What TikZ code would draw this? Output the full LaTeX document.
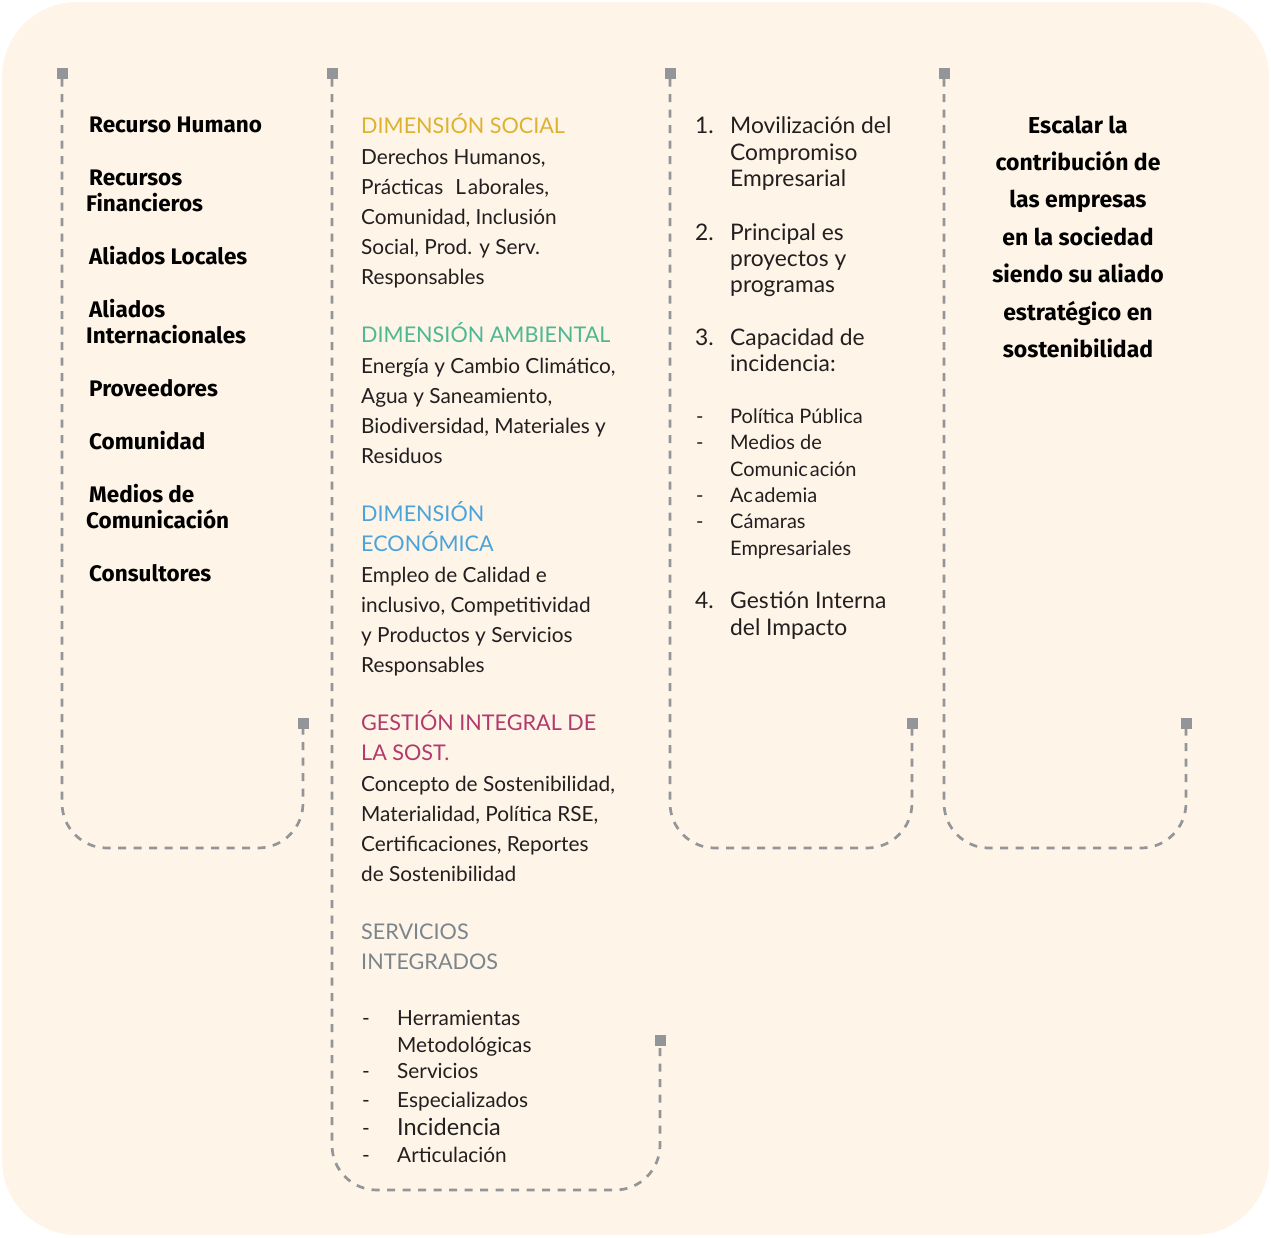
\documentclass[tikz,border=0pt]{standalone}
\usepackage{fontspec}
\setmainfont{Lato}
\newfontfamily\headf{Fira Sans}
\definecolor{bgc}{HTML}{FEF4E7}
\definecolor{sqc}{HTML}{939598}
\definecolor{txt}{HTML}{231F20}
\definecolor{csoc}{HTML}{DDB22F}
\definecolor{camb}{HTML}{4DB893}
\definecolor{ceco}{HTML}{4AA3DB}
\definecolor{cges}{HTML}{B23A6C}
\definecolor{cser}{HTML}{7B858C}
\begin{document}
\begin{tikzpicture}[x=1pt,y=-1pt,
  sq/.style={fill=sqc,minimum size=11pt,inner sep=0pt,draw=none},
  bracket/.style={draw=sqc,line width=2.7pt,dash pattern=on 8pt off 7.5pt,rounded corners=45pt},
  lb/.style={anchor=base west,inner sep=0pt,text=black,font=\headf\bfseries\fontsize{22.5}{26}\selectfont},
  rc/.style={anchor=base,inner sep=0pt,text=black,font=\headf\bfseries\fontsize{23}{27}\selectfont},
  body/.style={anchor=base west,inner sep=0pt,text=txt,font=\fontsize{20.8}{25}\selectfont},
  hd/.style={anchor=base west,inner sep=0pt,font=\fontsize{21.6}{26}\selectfont},
  num/.style={anchor=base west,inner sep=0pt,text=txt,font=\fontsize{22.8}{26}\selectfont},
  sm/.style={anchor=base west,inner sep=0pt,text=txt,font=\fontsize{20}{23}\selectfont}]
\useasboundingbox (0,0) rectangle (1271,1237);
\path[fill=bgc,rounded corners=75pt] (2,2) rectangle (1269,1235);

% squares
\node[sq] (q1t) at (62,73) {};
\node[sq] (q1b) at (303,723) {};
\node[sq] (q2t) at (332,73) {};
\node[sq] (q2b) at (660,1040) {};
\node[sq] (q3t) at (670,73) {};
\node[sq] (q3b) at (912,723) {};
\node[sq] (q4t) at (944,73) {};
\node[sq] (q4b) at (1186,723) {};

% brackets
\draw[bracket] (q1t.south) -- (q1t.south |- 0,848) -- (q1b.south |- 0,848) -- (q1b.south);
\draw[bracket] (q2t.south) -- (q2t.south |- 0,1190) -- (q2b.south |- 0,1190) -- (q2b.south);
\draw[bracket] (q3t.south) -- (q3t.south |- 0,848) -- (q3b.south |- 0,848) -- (q3b.south);
\draw[bracket] (q4t.south) -- (q4t.south |- 0,848) -- (q4b.south |- 0,848) -- (q4b.south);

% left column
\foreach \t/\x/\y [count=\i] in {Recurso Humano/89/132, Recursos/89/185, Financieros/86/211,
  Aliados Locales/89/264, Aliados/89/317, Internacionales/86/343, Proveedores/89/396,
  Comunidad/89/449, Medios de/89/502, Comunicación/86/528, Consultores/89/581}
  \node[lb] (a\i) at (\x,\y) {\t};

% middle column headings
\node[hd,text=csoc] (h1) at (361,133) {DIMENSIÓN SOCIAL};
\node[hd,text=camb] (h2) at (361,342) {DIMENSIÓN AMBIENTAL};
\node[hd,text=ceco] (h3) at (361,521) {DIMENSIÓN};
\node[hd,text=ceco] (h4) at (361,551) {ECONÓMICA};
\node[hd,text=cges] (h5) at (361,730) {GESTIÓN INTEGRAL DE};
\node[hd,text=cges] (h6) at (361,760) {LA SOST.};
\node[hd,text=cser] (h7) at (361,939) {SERVICIOS};
\node[hd,text=cser] (h8) at (361,969) {INTEGRADOS};

% middle column body
\foreach \t/\y [count=\i] in {{Derechos Humanos,}/164, {Prácticas\hspace{12pt}L\kern2pt aborales,}/194,
  {Comunidad, Inclusión}/224, {Social, Prod. y Serv.}/254, Responsables/284,
  {Energía y Cambio Climático,}/373, {Agua y Saneamiento,}/403, {Biodiversidad, Materiales y}/433, Residuos/463,
  {Empleo de Calidad e}/582, {inclusivo, Competitividad}/612, {y Productos y Servicios}/642, Responsables/672,
  {Concepto de Sostenibilidad,}/791, {Materialidad, Política RSE,}/821, {Certificaciones, Reportes}/851, {de Sostenibilidad}/881}
  \node[body] (b\i) at (361,\y) {\t};

% services list
\foreach \y [count=\i] in {1025,1078,1107,1135,1162}
  \node[body] (d\i) at (362,\y) {-};
\node[body] (s1) at (397,1025) {Herramientas};
\node[body] (s2) at (397,1052) {Metodológicas};
\node[body] (s3) at (397,1078) {Servicios};
\node[body] (s4) at (397,1107) {Especializados};
\node[body,font=\fontsize{23.5}{27}\selectfont] (s5) at (397,1135) {Incidencia};
\node[body] (s6) at (397,1162) {Articulación};

% third column
\node[num] (n1) at (695,133) {1.};
\node[num] (n2) at (695,240) {2.};
\node[num] (n3) at (695,345) {3.};
\node[num] (n4) at (695,608) {4.};
\foreach \t/\y [count=\i] in {{Movilización del}/133, Compromiso/160, Empresarial/186,
  {Principal es}/240, {proyectos y}/266, programas/292,
  {Capacidad de}/345, incidencia:/371,
  {Ges\kern1pt tión Interna}/608, {del Impacto}/635}
  \node[num] (c\i) at (730,\y) {\t};
\foreach \y [count=\i] in {423,449,502,528}
  \node[sm] (e\i) at (696,\y) {-};
\foreach \t/\y [count=\i] in {{Política Pública}/423, {Medios de}/449, {Comunic\kern2pt ación}/476,
  {Ac\kern1.5pt ademia}/502, Cámaras/528, Empresariales/555}
  \node[sm] (f\i) at (730,\y) {\t};

% right column
\foreach \t [count=\i] in {Escalar la, contribución de, las empresas, en la sociedad,
  siendo su aliado, estratégico en, sostenibilidad}
  \node[rc] (r\i) at (1078,{133+(\i-1)*37.4}) {\t};
\end{tikzpicture}
\end{document}
